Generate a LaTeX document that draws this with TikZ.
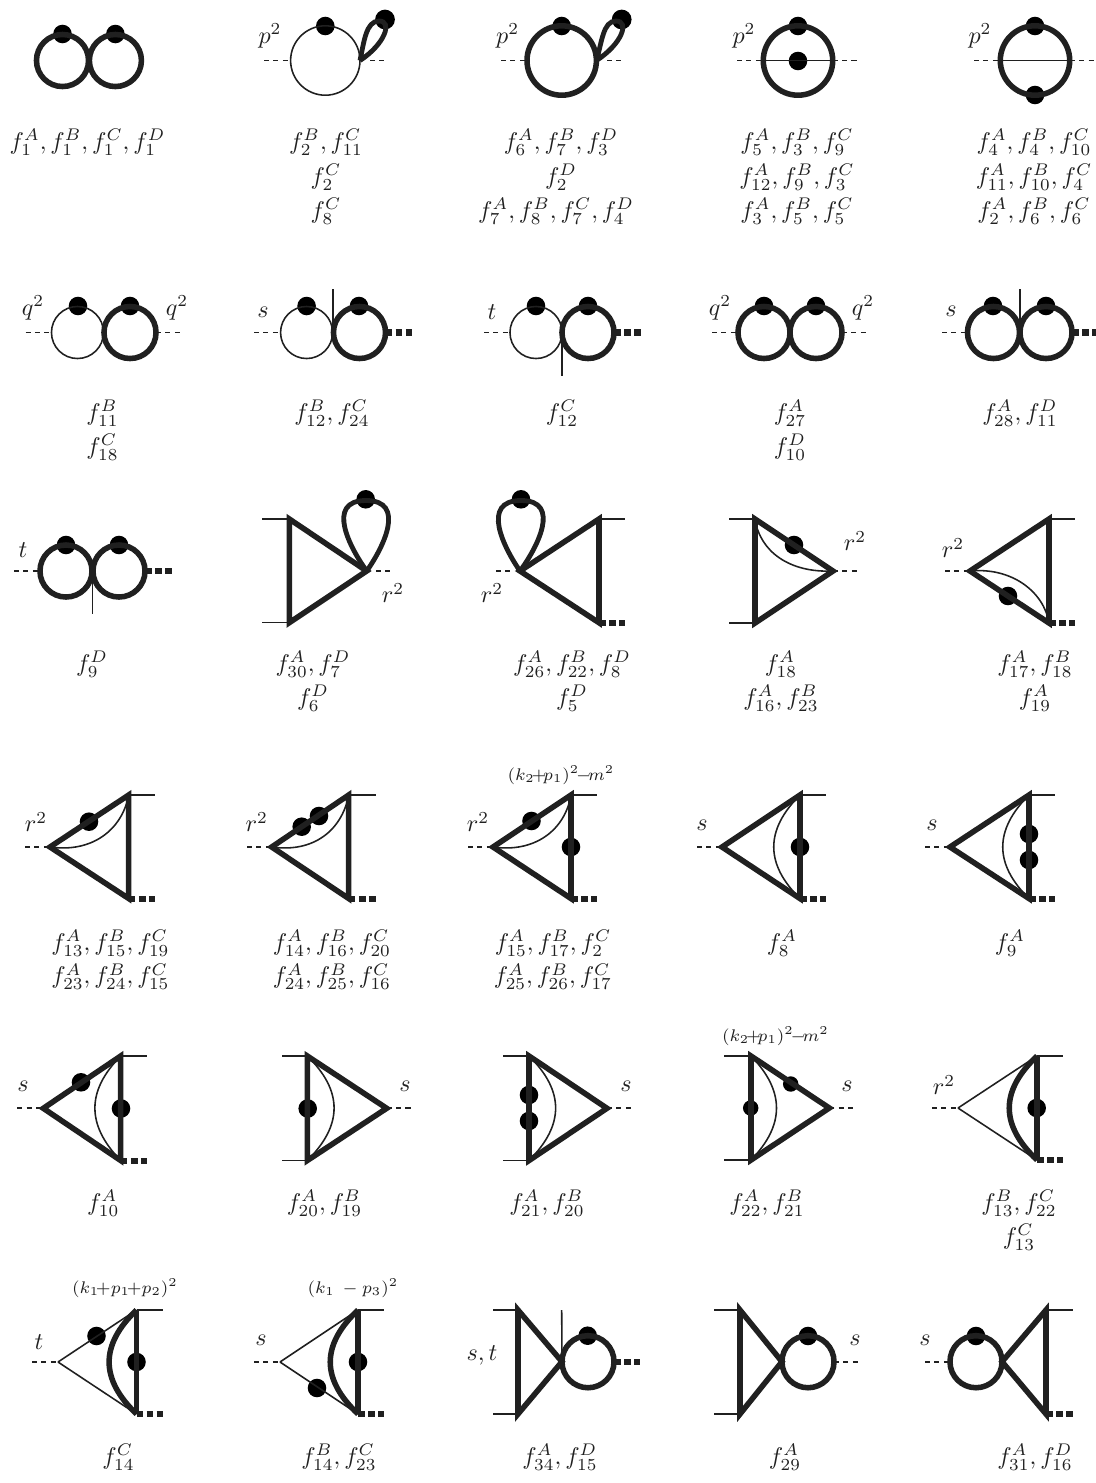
\documentclass[tikz,border=0pt]{standalone}
\usepackage{amsmath}
\usepackage{xcolor}
\usetikzlibrary{positioning}
\definecolor{lineDark}{RGB}{32,32,32}
\tikzset{
  heavy/.style={line width=2.3pt, color=lineDark},
  light/.style={line width=0.65pt, color=lineDark},
  ext/.style={line width=0.7pt, color=lineDark, dash pattern=on 2.1pt off 1.8pt},
  massive/.style={line width=2.5pt, color=lineDark, dash pattern=on 2.8pt off 1.4pt},
  petal/.style={line width=2pt, color=lineDark},
  blob/.style={circle, fill=black, inner sep=0pt, outer sep=0pt, minimum size=7.7pt},
  bubble/.style={circle, inner sep=0pt, outer sep=0pt, minimum size=21.6pt},
  ringbig/.style={circle, inner sep=0pt, outer sep=0pt, minimum size=28.8pt},
  lab/.style={inner sep=0pt, text=lineDark},
  note/.style={inner sep=0pt, text=lineDark, font=\scriptsize}
}
\begin{document}
\begin{tikzpicture}[x=0.415pt, y=-0.415pt]
\useasboundingbox (0,0) rectangle (1096,1483);

% Row 1
\node[blob] (d1a) at (62.5,34) {}; \node[blob] (d1b) at (115.4,34) {};
\node[bubble, heavy, draw] (c1a) at (62.5,60.5) {}; \node[bubble, heavy, draw] (c1b) at (115.4,60.5) {};
\node[lab] (l1a) at (87.5,142) {$f_1^A, f_1^B, f_1^C, f_1^D$};

\node[blob] (d2a) at (325.3,26) {}; \node[blob, minimum size=8.2pt] (d2b) at (385,19.5) {};
\node[ringbig, light, draw] (c2) at (325.3,60.5) {};
\coordinate (i2) at (264,60.5); \coordinate (o2) at (386,60.5); \coordinate (p2) at (370,60.5);
\draw[ext] (i2) -- (c2.west); \draw[ext] (p2) -- (o2);
\draw[petal] (c2.east) .. controls (364,42) and (366,21) .. (379,21) .. controls (393,21) and (385,44) .. (c2.east);
\node[lab] (m2) at (270,36) {$p^2$};
\node[lab] (l2a) at (326,142) {$f_2^B, f_{11}^C$}; \node[lab] (l2b) at (326,177) {$f_2^C$}; \node[lab] (l2c) at (326,211) {$f_8^C$};

\node[blob] (d3a) at (561.7,26) {}; \node[blob, minimum size=8.2pt] (d3b) at (621.7,19.5) {};
\node[ringbig, heavy, draw] (c3) at (561.7,60.5) {};
\coordinate (i3) at (501,60.5); \coordinate (o3) at (623,60.5); \coordinate (p3) at (607,60.5);
\draw[ext] (i3) -- (c3.west); \draw[ext] (p3) -- (o3);
\draw[petal] (c3.east) .. controls (602,42) and (603,21) .. (616,21) .. controls (630,21) and (622,44) .. (c3.east);
\node[lab] (m3) at (507.7,36) {$p^2$};
\node[lab] (l3a) at (561,142) {$f_6^A, f_7^B, f_3^D$}; \node[lab] (l3b) at (561,177) {$f_2^D$}; \node[lab] (l3c) at (556,211) {$f_7^A, f_8^B, f_7^C, f_4^D$};

\node[blob] (d4a) at (798,26) {}; \node[blob] (d4b) at (798,61) {};
\node[ringbig, heavy, draw] (c4) at (798,60.5) {};
\coordinate (i4) at (737,60.5); \coordinate (o4) at (859,60.5);
\draw[light] (c4.west) -- (c4.east); \draw[ext] (i4) -- (c4.west); \draw[ext] (c4.east) -- (o4);
\node[lab] (m4) at (744,36) {$p^2$};
\node[lab] (l4a) at (797,142) {$f_5^A, f_3^B, f_9^C$}; \node[lab] (l4b) at (797,177) {$f_{12}^A, f_9^B, f_3^C$}; \node[lab] (l4c) at (797,211) {$f_3^A, f_5^B, f_5^C$};

\node[blob] (d5a) at (1035,26) {}; \node[blob] (d5b) at (1035,95) {};
\node[ringbig, heavy, draw] (c5) at (1035,60.5) {};
\coordinate (i5) at (974,60.5); \coordinate (o5) at (1096,60.5);
\draw[light] (c5.west) -- (c5.east); \draw[ext] (i5) -- (c5.west); \draw[ext] (c5.east) -- (o5);
\node[lab] (m5) at (980,36) {$p^2$};
\node[lab] (l5a) at (1034,142) {$f_4^A, f_4^B, f_{10}^C$}; \node[lab] (l5b) at (1034,177) {$f_{11}^A, f_{10}^B, f_4^C$}; \node[lab] (l5c) at (1034,211) {$f_2^A, f_6^B, f_6^C$};

% Row 2
\node[blob] (d6a) at (78,306) {}; \node[blob] (d6b) at (130,306) {};
\node[bubble, light, draw] (c6a) at (77.5,332.5) {}; \node[bubble, heavy, draw] (c6b) at (130,332.5) {};
\coordinate (i6) at (25.5,332.5); \coordinate (o6) at (182.5,332.5);
\draw[ext] (i6) -- (c6a.west); \draw[ext] (c6b.east) -- (o6);
\node[lab] (m6a) at (33,308) {$q^2$}; \node[lab] (m6b) at (177,308) {$q^2$};
\node[lab] (l6a) at (102.5,413) {$f_{11}^B$}; \node[lab] (l6b) at (102.5,447) {$f_{18}^C$};

\node[blob] (d7a) at (306.6,306) {}; \node[blob] (d7b) at (359,306) {};
\node[bubble, light, draw] (c7a) at (306.6,332.5) {}; \node[bubble, heavy, draw] (c7b) at (359.5,332.5) {};
\coordinate (i7) at (254,332.5); \coordinate (o7) at (412,332.5); \coordinate (v7a) at (332.8,289); \coordinate (v7b) at (332.8,332.5);
\draw[light] (v7a) -- (v7b); \draw[ext] (i7) -- (c7a.west); \draw[massive] (c7b.east) -- (o7);
\node[lab] (m7) at (263,312) {$s$};
\node[lab] (l7a) at (332,413) {$f_{12}^B, f_{24}^C$};

\node[blob] (d8a) at (536,306) {}; \node[blob] (d8b) at (588,306) {};
\node[bubble, light, draw] (c8a) at (536,332.5) {}; \node[bubble, heavy, draw] (c8b) at (588,332.5) {};
\coordinate (i8) at (484,332.5); \coordinate (o8) at (641,332.5); \coordinate (v8a) at (562,332.5); \coordinate (v8b) at (562,376);
\draw[light] (v8a) -- (v8b); \draw[ext] (i8) -- (c8a.west); \draw[massive] (c8b.east) -- (o8);
\node[lab] (m8) at (492,312) {$t$};
\node[lab] (l8a) at (562,413) {$f_{12}^C$};

\node[blob] (d9a) at (764,306) {}; \node[blob] (d9b) at (816,306) {};
\node[bubble, heavy, draw] (c9a) at (764,332.5) {}; \node[bubble, heavy, draw] (c9b) at (816,332.5) {};
\coordinate (i9) at (712,332.5); \coordinate (o9) at (868,332.5);
\draw[ext] (i9) -- (c9a.west); \draw[ext] (c9b.east) -- (o9);
\node[lab] (m9a) at (720,308) {$q^2$}; \node[lab] (m9b) at (863,308) {$q^2$};
\node[lab] (l9a) at (790,413) {$f_{27}^A$}; \node[lab] (l9b) at (790,447) {$f_{10}^D$};

\node[blob] (d10a) at (993,306) {}; \node[blob] (d10b) at (1046,306) {};
\node[bubble, heavy, draw] (c10a) at (993.5,332.5) {}; \node[bubble, heavy, draw] (c10b) at (1046,332.5) {};
\coordinate (i10) at (942,332.5); \coordinate (o10) at (1096,332.5); \coordinate (v10a) at (1019.8,289); \coordinate (v10b) at (1019.8,332.5);
\draw[light] (v10a) -- (v10b); \draw[ext] (i10) -- (c10a.west); \draw[massive] (c10b.east) -- (o10);
\node[lab] (m10) at (951,311) {$s$};
\node[lab] (l10a) at (1020,413) {$f_{28}^A, f_{11}^D$};

% Row 3
\node[blob] (d11a) at (66,545) {}; \node[blob] (d11b) at (119,545) {};
\node[bubble, heavy, draw] (c11a) at (66,571) {}; \node[bubble, heavy, draw] (c11b) at (119,571) {};
\coordinate (i11) at (14,571); \coordinate (o11) at (172,571); \coordinate (v11a) at (92.5,571); \coordinate (v11b) at (92.5,614);
\draw[light] (v11a) -- (v11b); \draw[ext] (i11) -- (c11a.west); \draw[massive] (c11b.east) -- (o11);
\node[lab] (m11) at (23,550) {$t$};
\node[lab] (l11a) at (92,664) {$f_9^D$};

\node[blob] (d12) at (365.7,499.3) {};
\coordinate (a12) at (366.7,571); \coordinate (b12) at (289.3,519); \coordinate (e12) at (289.3,622.7);
\coordinate (i12) at (262,519); \coordinate (j12) at (262,622.7); \coordinate (p12) at (376,571); \coordinate (o12) at (392,571);
\draw[heavy] (a12) -- (b12) -- (e12) -- cycle;
\draw[light] (i12) -- (b12); \draw[light] (j12) -- (e12); \draw[ext] (p12) -- (o12);
\draw[petal] (a12) .. controls (350,548) and (325,500.5) .. (366,500.5) .. controls (407,500.5) and (383,548) .. (a12);
\node[lab] (m12) at (393,593) {$r^2$};
\node[lab] (l12a) at (313,664) {$f_{30}^A, f_7^D$}; \node[lab] (l12b) at (313,698) {$f_6^D$};

\node[blob] (d13) at (521,499.3) {};
\coordinate (a13) at (520,571); \coordinate (b13) at (599,519); \coordinate (e13) at (599,622.7);
\coordinate (i13) at (625,519); \coordinate (j13) at (625,622.7); \coordinate (p13) at (496,571); \coordinate (o13) at (512,571);
\draw[heavy] (a13) -- (b13) -- (e13) -- cycle;
\draw[light] (b13) -- (i13); \draw[massive] (e13) -- (j13); \draw[ext] (p13) -- (o13);
\draw[petal] (a13) .. controls (537,548) and (562,500.5) .. (521,500.5) .. controls (480,500.5) and (504,548) .. (a13);
\node[lab] (m13) at (492,593) {$r^2$};
\node[lab] (l13a) at (572,664) {$f_{26}^A, f_{22}^B, f_8^D$}; \node[lab] (l13b) at (572,698) {$f_5^D$};

\node[blob] (d14) at (794,545) {};
\coordinate (a14) at (833,571); \coordinate (b14) at (755,519); \coordinate (e14) at (755,623);
\coordinate (i14) at (729,519); \coordinate (j14) at (729,623); \coordinate (o14) at (858,571);
\draw[heavy] (a14) -- (b14) -- (e14) -- cycle;
\draw[light] (i14) -- (b14); \draw[light] (j14) -- (e14); \draw[ext] (a14) -- (o14);
\draw[light] (b14) .. controls (760,552) and (790,573) .. (a14);
\node[lab] (m14) at (855,541) {$r^2$};
\node[lab] (l14a) at (781,664) {$f_{18}^A$}; \node[lab] (l14b) at (781,698) {$f_{16}^A, f_{23}^B$};

\node[blob] (d15) at (1008,596) {};
\coordinate (a15) at (970,571); \coordinate (b15) at (1049,519); \coordinate (e15) at (1049,623);
\coordinate (i15) at (1075,519); \coordinate (j15) at (1075,623); \coordinate (o15) at (945,571);
\draw[heavy] (a15) -- (b15) -- (e15) -- cycle;
\draw[light] (b15) -- (i15); \draw[massive] (e15) -- (j15); \draw[ext] (o15) -- (a15);
\draw[light] (a15) .. controls (1012,567) and (1044,592) .. (e15);
\node[lab] (m15) at (953,548) {$r^2$};
\node[lab] (l15a) at (1035,664) {$f_{17}^A, f_{18}^B$}; \node[lab] (l15b) at (1035,698) {$f_{19}^A$};

% Row 4
\node[blob] (d16) at (89,821.7) {};
\coordinate (a16) at (50,847); \coordinate (b16) at (128.7,795); \coordinate (e16) at (128.7,898.5);
\coordinate (i16) at (155,795); \coordinate (j16) at (155,898.5); \coordinate (o16) at (25,847);
\draw[heavy] (a16) -- (b16) -- (e16) -- cycle;
\draw[light] (b16) -- (i16); \draw[massive] (e16) -- (j16); \draw[ext] (o16) -- (a16);
\draw[light] (a16) .. controls (92,853) and (122,830) .. (b16);
\node[lab] (m16) at (36,822) {$r^2$};
\node[lab] (l16a) at (110.5,943) {$f_{13}^A, f_{15}^B, f_{19}^C$}; \node[lab] (l16b) at (110.5,976.7) {$f_{23}^A, f_{24}^B, f_{15}^C$};

\node[blob] (d17a) at (301.7,826.7) {}; \node[blob] (d17b) at (319,816) {};
\coordinate (a17) at (271.7,847); \coordinate (b17) at (348.7,795); \coordinate (e17) at (348.7,898.5);
\coordinate (i17) at (376,795); \coordinate (j17) at (376,898.5); \coordinate (o17) at (247,847);
\draw[heavy] (a17) -- (b17) -- (e17) -- cycle;
\draw[light] (b17) -- (i17); \draw[massive] (e17) -- (j17); \draw[ext] (o17) -- (a17);
\draw[light] (a17) .. controls (314,853) and (342,830) .. (b17);
\node[lab] (m17) at (256.7,822) {$r^2$};
\node[lab] (l17a) at (332,943) {$f_{14}^A, f_{16}^B, f_{20}^C$}; \node[lab] (l17b) at (332,976.7) {$f_{24}^A, f_{25}^B, f_{16}^C$};

\node[blob] (d18a) at (531.5,821) {}; \node[blob] (d18b) at (571,847) {};
\coordinate (a18) at (493,847); \coordinate (b18) at (571,795); \coordinate (e18) at (571,898.5);
\coordinate (i18) at (597,795); \coordinate (j18) at (597,898.5); \coordinate (o18) at (468,847);
\draw[heavy] (a18) -- (b18) -- (e18) -- cycle;
\draw[light] (b18) -- (i18); \draw[massive] (e18) -- (j18); \draw[ext] (o18) -- (a18);
\draw[light] (a18) .. controls (535,853) and (565,830) .. (b18);
\node[lab] (m18) at (478,822) {$r^2$};
\node[note] (n18) at (561,775) {$(k_2\!{+}\!p_1)^2\!{-}\!m^2$};
\node[lab] (l18a) at (553,943) {$f_{15}^A, f_{17}^B, f_2^C$}; \node[lab] (l18b) at (553,976.7) {$f_{25}^A, f_{26}^B, f_{17}^C$};

\node[blob] (d19) at (800,847) {};
\coordinate (a19) at (722,847); \coordinate (b19) at (800,795); \coordinate (e19) at (800,898.5);
\coordinate (i19) at (826,795); \coordinate (j19) at (826,898.5); \coordinate (o19) at (697,847);
\draw[heavy] (a19) -- (b19) -- (e19) -- cycle;
\draw[light] (b19) -- (i19); \draw[massive] (e19) -- (j19); \draw[ext] (o19) -- (a19);
\draw[light] (b19) .. controls (765,830) and (765,864) .. (e19);
\node[lab] (m19) at (702,825) {$s$};
\node[lab] (l19a) at (782,943) {$f_8^A$};

\node[blob] (d20a) at (1029,834) {}; \node[blob] (d20b) at (1029,860) {};
\coordinate (a20) at (950,847); \coordinate (b20) at (1029,795); \coordinate (e20) at (1029,898.5);
\coordinate (i20) at (1055,795); \coordinate (j20) at (1055,898.5); \coordinate (o20) at (925,847);
\draw[heavy] (a20) -- (b20) -- (e20) -- cycle;
\draw[light] (b20) -- (i20); \draw[massive] (e20) -- (j20); \draw[ext] (o20) -- (a20);
\draw[light] (b20) .. controls (994,830) and (994,864) .. (e20);
\node[lab] (m20) at (932,825) {$s$};
\node[lab] (l20a) at (1010,943) {$f_9^A$};

% Row 5
\node[blob] (d21a) at (81,1082.3) {}; \node[blob] (d21b) at (121,1108.5) {};
\coordinate (a21) at (43.3,1108.3); \coordinate (b21) at (120.7,1056); \coordinate (e21) at (120.7,1160.5);
\coordinate (i21) at (146.7,1056); \coordinate (j21) at (146.7,1160.5); \coordinate (o21) at (17.3,1108.3);
\draw[heavy] (a21) -- (b21) -- (e21) -- cycle;
\draw[light] (b21) -- (i21); \draw[massive] (e21) -- (j21); \draw[ext] (o21) -- (a21);
\draw[light] (b21) .. controls (86.3,1091) and (86.3,1125) .. (e21);
\node[lab] (m21) at (23,1086.7) {$s$};
\node[lab] (l21a) at (103.3,1203.5) {$f_{10}^A$};

\node[blob] (d22) at (307.7,1108.5) {};
\coordinate (a22) at (386.7,1108.3); \coordinate (b22) at (307.3,1056); \coordinate (e22) at (307.3,1160.5);
\coordinate (i22) at (282,1056); \coordinate (j22) at (282,1160.5); \coordinate (o22) at (412,1108.3);
\draw[heavy] (a22) -- (b22) -- (e22) -- cycle;
\draw[light] (i22) -- (b22); \draw[light] (j22) -- (e22); \draw[ext] (a22) -- (o22);
\draw[light] (b22) .. controls (343,1091) and (343,1125) .. (e22);
\node[lab] (m22) at (405,1086.7) {$s$};
\node[lab] (l22a) at (324.5,1203.5) {$f_{20}^A, f_{19}^B$};

\node[blob] (d23a) at (529,1095) {}; \node[blob] (d23b) at (529,1121) {};
\coordinate (a23) at (607,1108.3); \coordinate (b23) at (529,1056); \coordinate (e23) at (529,1160.5);
\coordinate (i23) at (503,1056); \coordinate (j23) at (503,1160.5); \coordinate (o23) at (633,1108.3);
\draw[heavy] (a23) -- (b23) -- (e23) -- cycle;
\draw[light] (i23) -- (b23); \draw[light] (j23) -- (e23); \draw[ext] (a23) -- (o23);
\draw[light] (b23) .. controls (564.5,1091) and (564.5,1125) .. (e23);
\node[lab] (m23) at (626,1086.7) {$s$};
\node[lab] (l23a) at (547,1203.5) {$f_{21}^A, f_{20}^B$};

\node[blob, minimum size=6.4pt] (d24a) at (750.7,1108) {}; \node[blob, minimum size=6.4pt] (d24b) at (790.7,1084) {};
\coordinate (a24) at (829.3,1108); \coordinate (b24) at (751,1056); \coordinate (e24) at (751,1160);
\coordinate (i24) at (724,1056); \coordinate (j24) at (724,1160); \coordinate (o24) at (855,1108);
\draw[heavy] (a24) -- (b24) -- (e24) -- cycle;
\draw[light] (i24) -- (b24); \draw[light] (j24) -- (e24); \draw[ext] (a24) -- (o24);
\draw[light] (b24) .. controls (785,1091) and (785,1125) .. (e24);
\node[lab] (m24) at (847,1086.5) {$s$};
\node[note] (n24) at (775.5,1036) {$(k_2\!{+}\!p_1)^2\!{-}\!m^2$};
\node[lab] (l24a) at (767,1203.5) {$f_{22}^A, f_{21}^B$};

\node[blob] (d25) at (1036.7,1108) {};
\coordinate (a25) at (958,1108); \coordinate (b25) at (1037,1056); \coordinate (e25) at (1037,1160);
\coordinate (i25) at (1063,1056); \coordinate (j25) at (1063,1160); \coordinate (o25) at (932,1108);
\draw[light] (a25) -- (b25); \draw[light] (a25) -- (e25);
\draw[heavy] (b25) -- (e25); \draw[light] (b25) -- (i25); \draw[massive] (e25) -- (j25); \draw[ext] (o25) -- (a25);
\draw[heavy] (b25) .. controls (1000,1091) and (1000,1125) .. (e25);
\node[lab] (m25) at (944,1085) {$r^2$};
\node[lab] (l25a) at (1019,1203.5) {$f_{13}^B, f_{22}^C$}; \node[lab] (l25b) at (1019,1237.5) {$f_{13}^C$};

% Row 6
\node[blob] (d26a) at (96.5,1336) {}; \node[blob] (d26b) at (136.5,1362) {};
\coordinate (a26) at (58,1362); \coordinate (b26) at (136.5,1310); \coordinate (e26) at (136.5,1414);
\coordinate (i26) at (162.5,1310); \coordinate (j26) at (162.5,1414); \coordinate (o26) at (32,1362);
\draw[light] (a26) -- (b26); \draw[light] (a26) -- (e26);
\draw[heavy] (b26) -- (e26); \draw[light] (b26) -- (i26); \draw[massive] (e26) -- (j26); \draw[ext] (o26) -- (a26);
\draw[heavy] (b26) .. controls (100,1345) and (100,1379) .. (e26);
\node[lab] (m26) at (39,1342) {$t$};
\node[note] (n26) at (125,1288) {$(k_1\!{+}p_1\!{+}p_2)^2$};
\node[lab] (l26a) at (118.5,1457) {$f_{14}^C$};

\node[blob] (d27a) at (317,1388) {}; \node[blob] (d27b) at (358,1362) {};
\coordinate (a27) at (280,1362); \coordinate (b27) at (358,1310); \coordinate (e27) at (358,1414);
\coordinate (i27) at (384,1310); \coordinate (j27) at (384,1414); \coordinate (o27) at (254,1362);
\draw[light] (a27) -- (b27); \draw[light] (a27) -- (e27);
\draw[heavy] (b27) -- (e27); \draw[light] (b27) -- (i27); \draw[massive] (e27) -- (j27); \draw[ext] (o27) -- (a27);
\draw[heavy] (b27) .. controls (321,1345) and (321,1379) .. (e27);
\node[lab] (m27) at (261,1340) {$s$};
\node[note] (n27) at (353,1288) {$(k_1\,-p_3)^2$};
\node[lab] (l27a) at (339,1457) {$f_{14}^B, f_{23}^C$};

\node[blob] (d28) at (587.7,1335.7) {};
\node[bubble, heavy, draw] (c28) at (588,1361.7) {};
\coordinate (b28) at (518,1310); \coordinate (e28) at (518,1414);
\coordinate (i28) at (493,1310); \coordinate (j28) at (493,1414); \coordinate (o28) at (640,1361.7); \coordinate (v28) at (561.7,1310);
\draw[heavy] (c28.west) -- (b28) -- (e28) -- cycle;
\draw[light] (i28) -- (b28); \draw[light] (j28) -- (e28); \draw[light] (v28) -- (c28.west); \draw[massive] (c28.east) -- (o28);
\node[lab] (m28) at (482,1355) {$s,t$};
\node[lab] (l28a) at (560,1457) {$f_{34}^A, f_{15}^D$};

\node[blob] (d29) at (808,1336) {};
\node[bubble, heavy, draw] (c29) at (808,1361.7) {};
\coordinate (b29) at (740,1310); \coordinate (e29) at (740,1414);
\coordinate (i29) at (714,1310); \coordinate (j29) at (714,1414); \coordinate (o29) at (860,1361.7);
\draw[heavy] (c29.west) -- (b29) -- (e29) -- cycle;
\draw[light] (i29) -- (b29); \draw[light] (j29) -- (e29); \draw[ext] (c29.east) -- (o29);
\node[lab] (m29) at (855,1340) {$s$};
\node[lab] (l29a) at (785,1457) {$f_{29}^A$};

\node[blob] (d30) at (976,1336) {};
\node[bubble, heavy, draw] (c30) at (976,1361.7) {};
\coordinate (b30) at (1046,1310); \coordinate (e30) at (1046,1414);
\coordinate (i30) at (1073,1310); \coordinate (j30) at (1073,1414); \coordinate (o30) at (925,1361.7);
\draw[heavy] (c30.east) -- (b30) -- (e30) -- cycle;
\draw[light] (b30) -- (i30); \draw[massive] (e30) -- (j30); \draw[ext] (o30) -- (c30.west);
\node[lab] (m30) at (925,1340) {$s$};
\node[lab] (l30a) at (1035,1457) {$f_{31}^A, f_{16}^D$};
\end{tikzpicture}
\end{document}
